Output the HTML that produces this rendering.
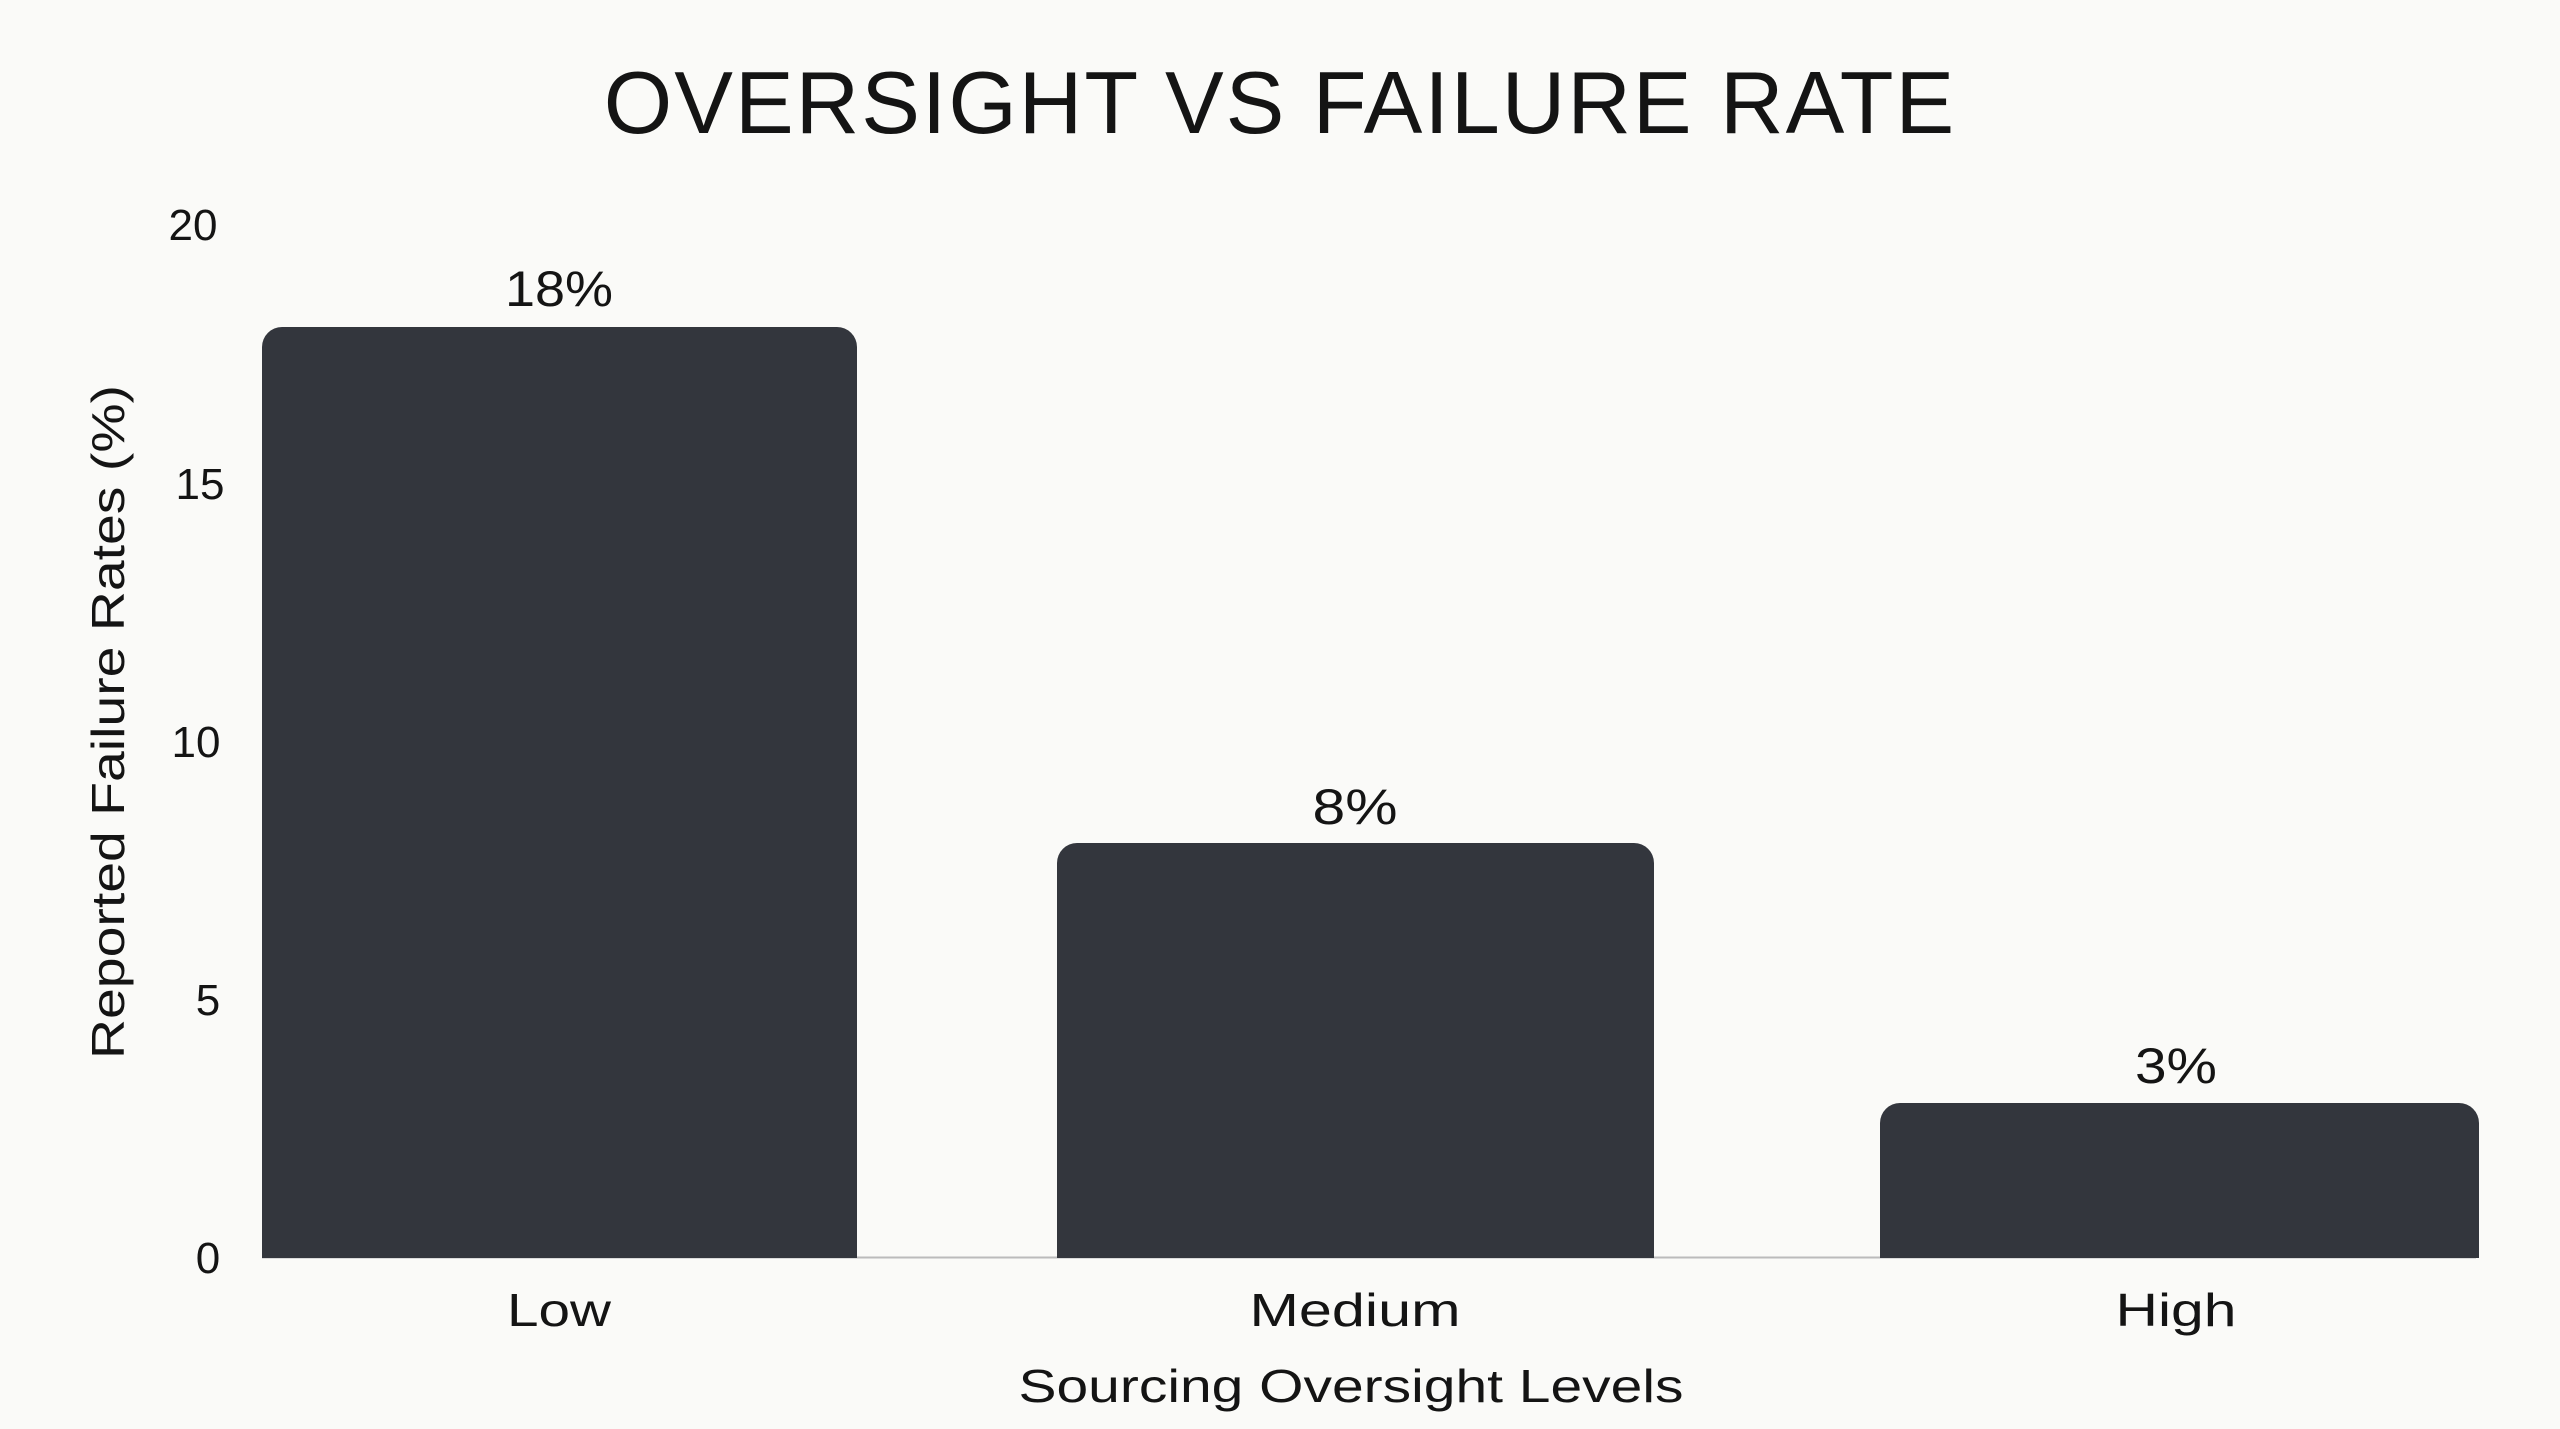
<!DOCTYPE html>
<html><head><meta charset="utf-8"><style>
html,body{margin:0;padding:0;background:#fafaf8;}
svg{display:block;}
text{font-family:"Liberation Sans",sans-serif;fill:#141414;}
</style></head><body>
<svg width="2560" height="1429" viewBox="0 0 2560 1429" xmlns="http://www.w3.org/2000/svg">
<rect width="2560" height="1429" fill="#fafaf8"/>
<text x="1280" y="133" font-size="88" text-anchor="middle" letter-spacing="2">OVERSIGHT VS FAILURE RATE</text>
<g font-size="44" text-anchor="middle">
<text x="193" y="240">20</text>
<text x="200" y="499">15</text>
<text x="196" y="757">10</text>
<text x="208" y="1015">5</text>
<text x="208" y="1273">0</text>
</g>
<text transform="translate(124,722) rotate(-90)" font-size="46" text-anchor="middle" textLength="674" lengthAdjust="spacingAndGlyphs">Reported Failure Rates (%)</text>
<line x1="262" y1="1257.5" x2="2476" y2="1257.5" stroke="#bbbbbb" stroke-width="2"/>
<g fill="#33363d">
<path d="M262,1258 V347 a20,20 0 0 1 20,-20 H837 a20,20 0 0 1 20,20 V1258 Z"/>
<path d="M1057,1258 V863 a20,20 0 0 1 20,-20 H1634 a20,20 0 0 1 20,20 V1258 Z"/>
<path d="M1880,1258 V1123 a20,20 0 0 1 20,-20 H2459 a20,20 0 0 1 20,20 V1258 Z"/>
</g>
<g font-size="50" text-anchor="middle" lengthAdjust="spacingAndGlyphs">
<text x="559" y="306" textLength="108" lengthAdjust="spacingAndGlyphs">18%</text>
<text x="1355" y="824" textLength="85" lengthAdjust="spacingAndGlyphs">8%</text>
<text x="2176" y="1083" textLength="82" lengthAdjust="spacingAndGlyphs">3%</text>
</g>
<g font-size="46" text-anchor="middle">
<text x="559" y="1326" textLength="104" lengthAdjust="spacingAndGlyphs">Low</text>
<text x="1355" y="1326" textLength="211" lengthAdjust="spacingAndGlyphs">Medium</text>
<text x="2176" y="1326" textLength="121" lengthAdjust="spacingAndGlyphs">High</text>
<text x="1351" y="1402" textLength="665" lengthAdjust="spacingAndGlyphs">Sourcing Oversight Levels</text>
</g>
</svg>
</body></html>
